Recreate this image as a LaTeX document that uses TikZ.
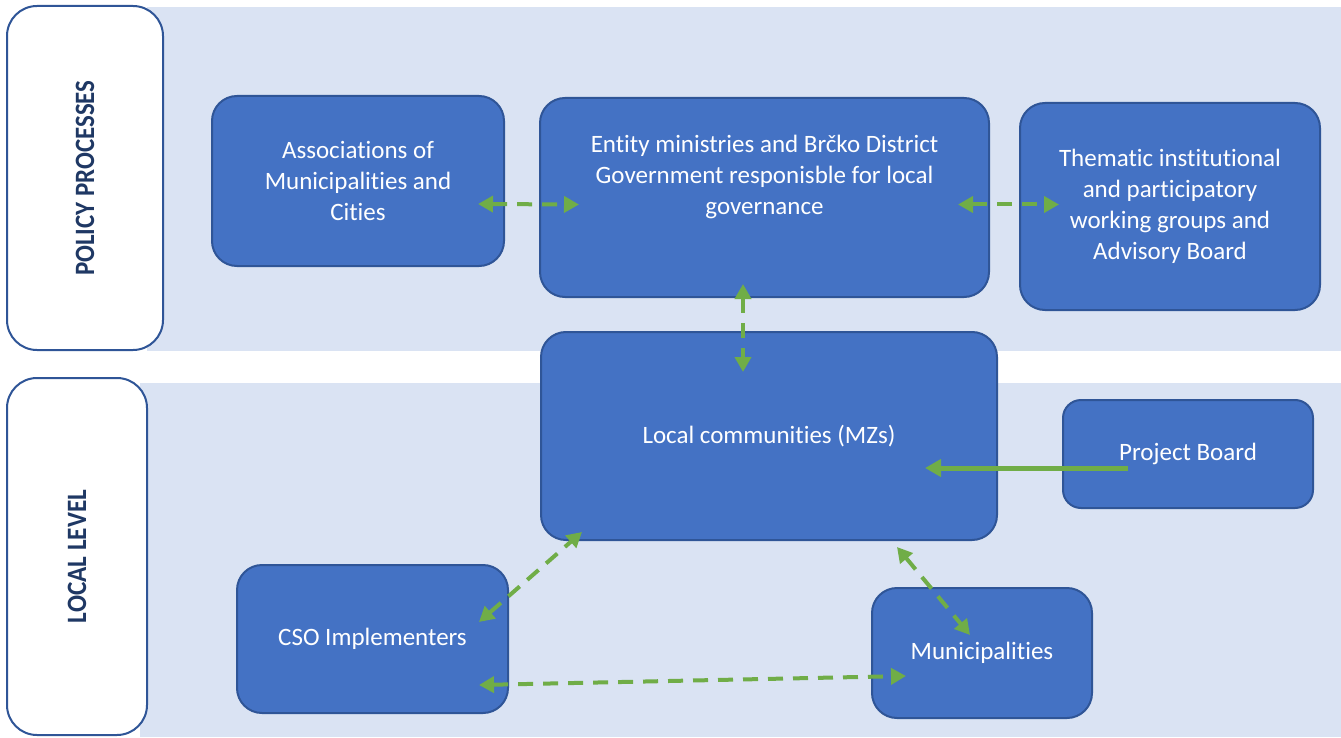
\documentclass[tikz,border=0pt]{standalone}
\usepackage{fontspec}
\setmainfont{Carlito}[Ligatures=NoCommon]
\usetikzlibrary{arrows.meta,positioning,calc}
\definecolor{nodeblue}{RGB}{68,114,196}
\definecolor{edgeblue}{RGB}{47,85,151}
\definecolor{bandblue}{RGB}{218,227,243}
\definecolor{linkgreen}{RGB}{112,173,71}
\definecolor{navy}{RGB}{31,56,100}

\begin{document}
\begin{tikzpicture}[
            x=1pt, y=-1pt,
            box/.style={rectangle, draw=edgeblue, line width=2pt, fill=nodeblue, text=white, align=center, rounded corners=25pt, inner sep=0pt, font=\fontsize{25}{31}\selectfont},
            boxtext/.style={text=white, align=center, inner sep=0pt, font=\fontsize{25}{31}\selectfont},
            sidebox/.style={rectangle, draw=edgeblue, line width=2pt, fill=white, rounded corners=30pt, inner sep=0pt, text=navy, font=\fontsize{28}{30}\selectfont\bfseries},
            link/.style={{Triangle[length=15pt,width=16pt]}-{Triangle[length=15pt,width=16pt]}, linkgreen, line width=4pt, dash pattern=on 15pt off 10pt},
            feed/.style={-{Triangle[length=16pt,width=17pt]}, linkgreen, line width=5pt}
        ]
            \useasboundingbox (0,0) rectangle (1341,738);
            % background bands
            \fill[bandblue] (147,7) rectangle (1341,351);
            \fill[bandblue] (140,383) rectangle (1341,737);

            % level labels
            \node[sidebox, rotate=90, minimum width=344, minimum height=156] (policy) at (85,178) {\scalebox{0.89}[1]{POLICY PROCESSES}};
            \node[sidebox, rotate=90, minimum width=357, minimum height=140] (locallevel) at (77,556.5) {\scalebox{0.9}[1]{LOCAL LEVEL}};

            % actors
            \node[box, minimum width=292, minimum height=170] (assoc) at (358,181) {Associations of\\Municipalities and\\Cities};
            \node[box, minimum width=449, minimum height=199] (entity) at (764.5,197.5) {};
            \node[boxtext] (entitytext) at (764.5,177) {Entity ministries and Brčko District\\Government responisble for local\\governance};
            \node[box, minimum width=300, minimum height=207] (thematic) at (1170,206.5) {Thematic institutional\\and participatory\\working groups and\\Advisory Board};
            \node[box, minimum width=456, minimum height=208] (local) at (769,436) {Local communities (MZs)};
            \node[box, rounded corners=18pt, minimum width=250, minimum height=108] (project) at (1188,454) {Project Board};
            \node[box, minimum width=271, minimum height=148] (cso) at (372.5,639) {CSO Implementers};
            \node[box, minimum width=220, minimum height=130] (munic) at (982,653) {Municipalities};

            % links
            \draw[link] ([xshift=-27pt,yshift=-23pt]assoc.east) -- ([xshift=40pt,yshift=-7pt]entity.west);
            \draw[link] ([xshift=-32pt,yshift=-7pt]entity.east) -- ([xshift=40pt,yshift=2pt]thematic.west);
            \draw[link] ([xshift=-21.5pt,yshift=14pt]entity.south) -- ([xshift=-26pt,yshift=-41pt]local.north);
            \draw[feed] ([xshift=-60pt,yshift=-14pt]project.center) -- ([xshift=-73pt,yshift=-32pt]local.east);
            \draw[link] ([xshift=-30pt,yshift=-58pt]cso.north east) -- ([xshift=42pt,yshift=9pt]local.south west);
            \draw[link] ([xshift=-101pt,yshift=-6pt]local.south east) -- ([xshift=-12pt,yshift=-48pt]munic.north);
            \draw[link] ([xshift=-30pt,yshift=-46pt]cso.east) -- ([xshift=35pt,yshift=-23pt]munic.west);
        \end{tikzpicture}
\end{document}
